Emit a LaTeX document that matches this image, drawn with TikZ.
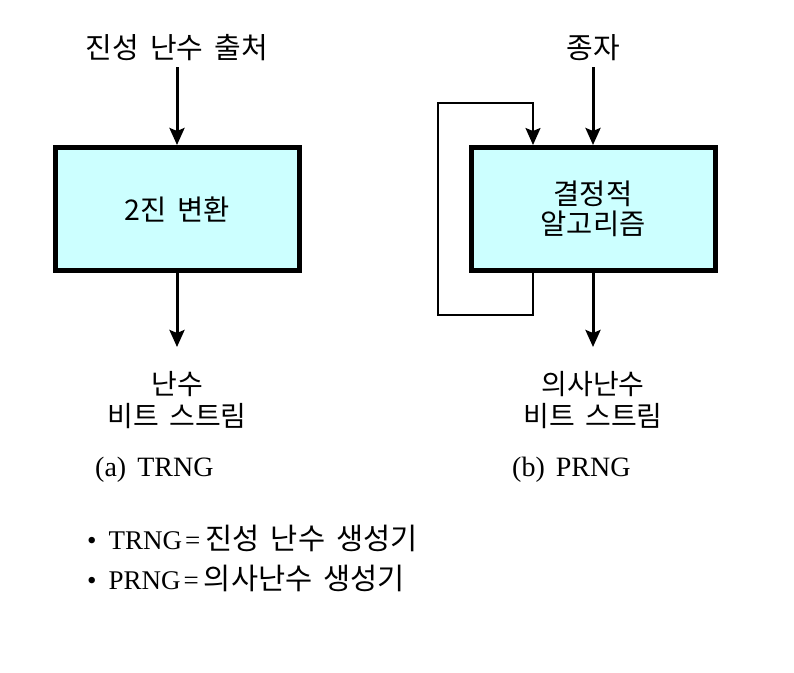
\documentclass[tikz,border=0pt]{standalone}
\usepackage{fontspec}
\setmainfont{Liberation Serif}
\newfontfamily\kr[WordSpace=1.7]{Noto Sans CJK KR}
\usetikzlibrary{arrows.meta}
\definecolor{boxfill}{HTML}{CCFFFF}
\tikzset{
  blk/.style={draw=black, line width=5pt, fill=boxfill, minimum width=244pt, minimum height=123pt, inner sep=0pt, font=\kr\fontsize{28.5}{30}\selectfont, align=center},
  flow/.style={line width=3pt, -{Stealth[length=17pt,width=15pt,inset=3pt]}},
  fb/.style={line width=2pt, -{Stealth[length=17pt,width=15pt,inset=3pt]}},
  toplbl/.style={font=\kr\fontsize{29}{33}\selectfont, inner sep=0pt, align=center},
  lbl/.style={font=\kr\fontsize{28}{32.5}\selectfont, inner sep=0pt, align=center},
  captxt/.style={font=\fontsize{28}{30}\selectfont, inner sep=0pt, anchor=west},
  bultxt/.style={font=\fontsize{27}{30}\selectfont, inner sep=0pt, anchor=west},
}
\newcommand{\krb}[1]{{\kr\fontsize{29.5}{30}\selectfont #1}}
\begin{document}
\begin{tikzpicture}[x=1pt,y=-1pt]
\useasboundingbox (0,0) rectangle (794,672);
% left
\node[blk] (conv) at (177,209) {2진 변환};
\node[toplbl] (src) at (177,48) {진성 난수 출처};
\coordinate (srcEnd) at (177,67);
\coordinate (outL) at (177,347);
\draw[flow] (srcEnd) -- (conv.north);
\draw[flow] (conv.south) -- (outL);
\node[lbl] (outLtxt) at (177,400) {난수\\비트 스트림};
% right
\node[blk] (alg) at (593,209) {결정적\\알고리즘};
\node[toplbl] (seed) at (593,48) {종자};
\coordinate (seedEnd) at (593,67);
\coordinate (outR) at (593,347);
\draw[flow] (seedEnd) -- (alg.north);
\draw[flow] (alg.south) -- (outR);
\node[lbl] (outRtxt) at (593,400) {의사난수\\비트 스트림};
% feedback
\coordinate (fbOut) at ([xshift=-60pt]alg.south);
\coordinate (fbIn) at ([xshift=-60pt]alg.north);
\draw[fb] (fbOut) -- ++(0,42) -| (438,103) -| (fbIn);
% captions
\node[captxt] (capa) at (95,470) {(a)\hspace{11pt}TRNG};
\node[captxt] (capb) at (512,470) {(b)\hspace{11pt}PRNG};
\node[bultxt] (b1) at (87,538) {\textbullet\hspace{12pt}TRNG\hspace{3pt}=\hspace{5pt}\krb{진성 난수 생성기}};
\node[bultxt] (b2) at (87,578) {\textbullet\hspace{12pt}PRNG\hspace{3pt}=\hspace{5pt}\krb{의사난수 생성기}};
\end{tikzpicture}
\end{document}
